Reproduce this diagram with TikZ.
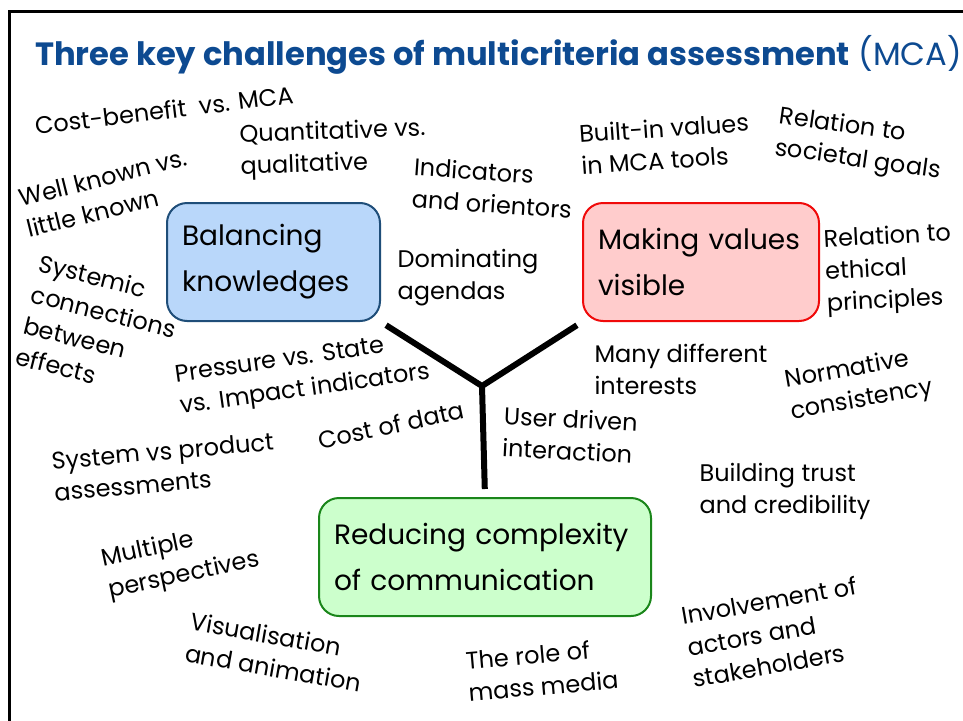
\documentclass[tikz,border=0pt]{standalone}
\usepackage{fontspec}
\setmainfont{Poppins}
\usepackage{tikz}
\hyphenpenalty=10000
\exhyphenpenalty=10000

\definecolor{titleblue}{HTML}{0D4A91}
\definecolor{kfill}{HTML}{B9D7FA}
\definecolor{kdraw}{HTML}{1F4E79}
\definecolor{vfill}{HTML}{FFCCCC}
\definecolor{vdraw}{HTML}{F00A0A}
\definecolor{cfill}{HTML}{CCFFCC}
\definecolor{cdraw}{HTML}{1A861A}

\begin{document}
\begin{tikzpicture}[x=1pt, y=-1pt,
    lbl/.style={font=\fontsize{24}{32}\selectfont, align=left, inner sep=0pt},
    chal/.style={rounded corners=20pt, line width=2pt, inner xsep=15pt,
      minimum height=118pt, align=left,
      font=\fontsize{28}{46}\selectfont},
    yline/.style={line width=6pt}]
      \useasboundingbox (0,0) rectangle (963,720);
      \clip (0,0) rectangle (963,720);
      % frame
      \draw[line width=3pt] (9,740) -- (9,11) -- (990,11);
      % title
      \node[anchor=base west, inner sep=0pt, text=titleblue,
        font=\fontsize{32.2}{38}\selectfont] (title) at (35,65)
        {\textbf{Three key challenges of multicriteria assessment} (MCA)};
      % the three challenges
      \node[chal, draw=kdraw, fill=kfill, text width=183pt] (know) at (273.5,262)
        {Balancing\\knowledges};
      \node[chal, draw=vdraw, fill=vfill, text width=206pt] (vals) at (701,262)
        {Making values\\visible};
      \node[chal, draw=cdraw, fill=cfill, text width=302pt] (comm) at (485,557)
        {Reducing complexity\\of communication};
      % Y between them
      \coordinate (mid) at (482,386);
      \draw[yline, shorten <=6pt, shorten >=6pt] (know.south east) -- (mid) -- (vals.south west);
      \draw[yline, shorten >=8pt] (mid) -- (comm.north);
      % issues round the boxes
      \node[lbl, rotate=7] (costben) at (164,110) {Cost-benefit\ \ vs. MCA};
      \node[lbl, rotate=2] (quant) at (333,149) {Quantitative vs.\\qualitative};
      \node[lbl, rotate=-4] (indic) at (493,188) {Indicators\\and orientors};
      \node[lbl, rotate=4] (builtin) at (665,144) {Built-in values\\in MCA tools};
      \node[lbl, rotate=-8] (societal) at (860,145) {Relation to\\societal goals};
      \node[lbl, rotate=14] (wellknown) at (107,193) {Well known vs.\\little known};
      \node[lbl, rotate=-14] (systemic) at (100,327) {Systemic\\connections\\between\\effects};
      \node[lbl] (dominating) at (468,278) {Dominating\\agendas};
      \node[lbl, rotate=3] (ethical) at (889,270) {Relation to\\ethical\\principles};
      \node[lbl, rotate=8] (pressure) at (303,375) {Pressure vs. State\\vs. Impact indicators};
      \node[lbl] (interests) at (681,369) {Many different\\interests};
      \node[lbl, rotate=10] (normative) at (859,385) {Normative\\consistency};
      \node[lbl, rotate=12] (costdata) at (391,425) {Cost of data};
      \node[lbl, rotate=-3] (userdriven) at (570,435) {User driven\\interaction};
      \node[lbl, rotate=5] (sysprod) at (164,467) {System vs product\\assessments};
      \node[lbl] (trust) at (785,491) {Building trust\\and credibility};
      \node[lbl, rotate=12] (multiple) at (181,560) {Multiple\\perspectives};
      \node[lbl, rotate=-10] (visual) at (276,652) {Visualisation\\and animation};
      \node[lbl, rotate=5] (massmedia) at (542,670) {The role of\\mass media};
      \node[lbl, rotate=10] (actors) at (775,632) {Involvement of\\actors and\\stakeholders};
\end{tikzpicture}
\end{document}
